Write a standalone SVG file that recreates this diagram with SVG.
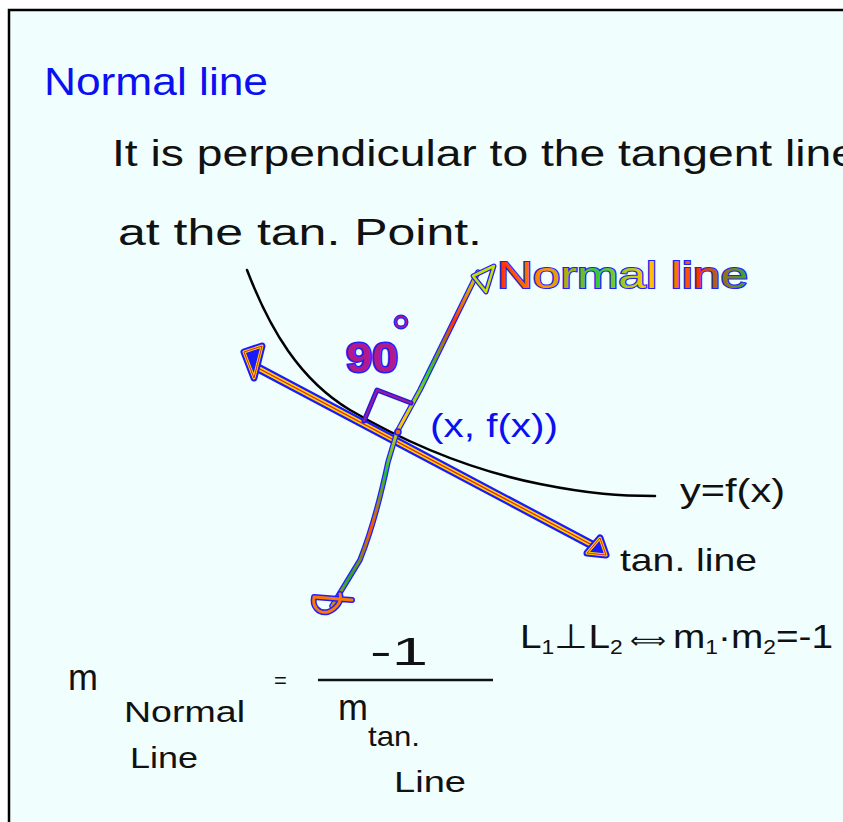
<svg xmlns="http://www.w3.org/2000/svg" width="843" height="822" viewBox="0 0 843 822">
<style>
.t{font-family:"Liberation Sans",Arial,sans-serif;fill:#111}
.b{fill:#0a10f0}
</style>
<defs>
<linearGradient id="rbn" gradientUnits="userSpaceOnUse" x1="478" y1="272" x2="322" y2="607">
<stop offset="0" stop-color="#c8e000"/><stop offset="0.15" stop-color="#ff3300"/><stop offset="0.3" stop-color="#33cc33"/><stop offset="0.45" stop-color="#ffcc00"/><stop offset="0.6" stop-color="#22bb44"/><stop offset="0.75" stop-color="#ff5500"/><stop offset="0.9" stop-color="#22aa33"/><stop offset="1" stop-color="#ff8800"/>
</linearGradient>
<linearGradient id="rbt" x1="0" y1="0" x2="1" y2="0">
<stop offset="0" stop-color="#ff2a00"/><stop offset="0.2" stop-color="#ff9900"/><stop offset="0.4" stop-color="#33cc33"/><stop offset="0.6" stop-color="#ffcc00"/><stop offset="0.8" stop-color="#ff3300"/><stop offset="1" stop-color="#33aa33"/>
</linearGradient>
</defs>
<rect width="843" height="822" fill="#ffffff"/>
<rect x="9" y="10" width="840" height="820" fill="#f0fefd" stroke="#000" stroke-width="2.5"/>

<text class="t b" x="44" y="95" font-size="38" textLength="224" lengthAdjust="spacingAndGlyphs">Normal line</text>
<text class="t" x="112" y="166" font-size="36" textLength="745" lengthAdjust="spacingAndGlyphs">It is perpendicular to the tangent line</text>
<text class="t" x="118" y="245" font-size="36" textLength="364" lengthAdjust="spacingAndGlyphs">at the tan. Point.</text>

<!-- curve y=f(x) -->
<path d="M247,270 C270,330 300,380 350,410 C410,445 470,470 540,484 C590,494 620,496 655,496" fill="none" stroke="#000" stroke-width="2.5" stroke-linecap="round"/>

<g id="connectors">
<g id="tangent">
<line x1="258" y1="368" x2="594" y2="546" stroke="#1a1aff" stroke-width="9" stroke-linecap="round"/>
<line x1="258" y1="368" x2="594" y2="546" stroke="#ffd200" stroke-width="4.5" stroke-linecap="round"/>
<line x1="258" y1="368" x2="594" y2="546" stroke="#e02020" stroke-width="1.2"/>
<path d="M244,352 L262,346 L254,378 Z" fill="#1a1aff" stroke="#1a1aff" stroke-width="7" stroke-linejoin="round"/>
<path d="M244,352 L262,346 L254,378 Z" fill="none" stroke="#ffd200" stroke-width="3" stroke-linejoin="round"/>
<path d="M244,352 L262,346 L254,378 Z" fill="none" stroke="#e02020" stroke-width="1" stroke-linejoin="round"/>
<path d="M587,553 L600,538 L606,555 Z" fill="#1a1aff" stroke="#1a1aff" stroke-width="7" stroke-linejoin="round"/>
<path d="M587,553 L600,538 L606,555 Z" fill="none" stroke="#ffd200" stroke-width="3" stroke-linejoin="round"/>
<path d="M587,553 L600,538 L606,555 Z" fill="none" stroke="#e02020" stroke-width="1" stroke-linejoin="round"/>
</g>
<g id="normal">
<path d="M478,272 L420,390 L397,432 L388,462 C380,500 372,530 360,560 L332,606" fill="none" stroke="#2020ff" stroke-width="5.5" stroke-linecap="round" stroke-linejoin="round"/>
<path d="M478,272 L420,390 L397,432 L388,462 C380,500 372,530 360,560 L332,606" fill="none" stroke="url(#rbn)" stroke-width="3" stroke-linecap="round" stroke-linejoin="round"/>
<path d="M473,276 L494,266 L486,292 Z" fill="none" stroke="#2020ff" stroke-width="5" stroke-linejoin="round"/>
<path d="M473,276 L494,266 L486,292 Z" fill="none" stroke="#c8e000" stroke-width="2.5" stroke-linejoin="round"/>
<path d="M352,600 L314,597 C312,606 318,614 328,612 C338,608 342,600 340,594" fill="none" stroke="#2020ff" stroke-width="6" stroke-linecap="round" stroke-linejoin="round"/>
<path d="M352,600 L314,597 C312,606 318,614 328,612 C338,608 342,600 340,594" fill="none" stroke="#ff7700" stroke-width="3" stroke-linecap="round" stroke-linejoin="round"/>
</g>
<g id="right-angle">
<path d="M364,421 L377,390 L411,403" fill="none" stroke="#2a1ad8" stroke-width="5" stroke-linecap="round" stroke-linejoin="round"/>
<path d="M364,421 L377,390 L411,403" fill="none" stroke="#9a1aa0" stroke-width="2" stroke-linecap="round" stroke-linejoin="round"/>
<circle cx="398" cy="432" r="3" fill="#ff6600" stroke="#2020ff" stroke-width="1.5"/>
</g>
</g>

<text class="t" x="497" y="288" font-size="36" textLength="251" lengthAdjust="spacingAndGlyphs" stroke="#2020ff" stroke-width="2" paint-order="stroke" style="fill:url(#rbt)">Normal line</text>
<text class="t" x="346" y="372" font-size="42" font-weight="bold" textLength="52" lengthAdjust="spacingAndGlyphs" stroke="#2020ff" stroke-width="3" paint-order="stroke" style="fill:#b01a8a">90</text>
<circle cx="401" cy="322" r="5.5" fill="none" stroke="#2020ff" stroke-width="4"/>
<circle cx="401" cy="322" r="5.5" fill="none" stroke="#b01a8a" stroke-width="1.5"/>
<text class="t b" x="430" y="437" font-size="34" textLength="128" lengthAdjust="spacingAndGlyphs">(x, f(x))</text>
<text class="t" x="680" y="502" font-size="34" textLength="105" lengthAdjust="spacingAndGlyphs">y=f(x)</text>
<text class="t" x="620" y="571" font-size="32" textLength="137" lengthAdjust="spacingAndGlyphs">tan. line</text>
<text class="t" x="520" y="648" font-size="34" textLength="313" lengthAdjust="spacingAndGlyphs">L<tspan font-size="20" dy="6">1</tspan><tspan dy="-6">⊥L</tspan><tspan font-size="20" dy="6">2</tspan><tspan dy="-6" font-size="22"> ⟺ </tspan>m<tspan font-size="20" dy="6">1</tspan><tspan dy="-6">·m</tspan><tspan font-size="20" dy="6">2</tspan><tspan dy="-6">=-1</tspan></text>

<text class="t" x="68" y="690" font-size="36">m</text>
<text class="t" x="124" y="722" font-size="30" textLength="121" lengthAdjust="spacingAndGlyphs">Normal</text>
<text class="t" x="130" y="768" font-size="30" textLength="68" lengthAdjust="spacingAndGlyphs">Line</text>
<text class="t" x="274" y="688" font-size="22">=</text>
<text class="t" x="370" y="665" font-size="38" textLength="58" lengthAdjust="spacingAndGlyphs">-1</text>
<line x1="318" y1="680" x2="493" y2="680" stroke="#111" stroke-width="2.5"/>
<text class="t" x="338" y="720" font-size="36">m</text>
<text class="t" x="368" y="746" font-size="28" textLength="52" lengthAdjust="spacingAndGlyphs">tan.</text>
<text class="t" x="394" y="792" font-size="30" textLength="72" lengthAdjust="spacingAndGlyphs">Line</text>
</svg>
